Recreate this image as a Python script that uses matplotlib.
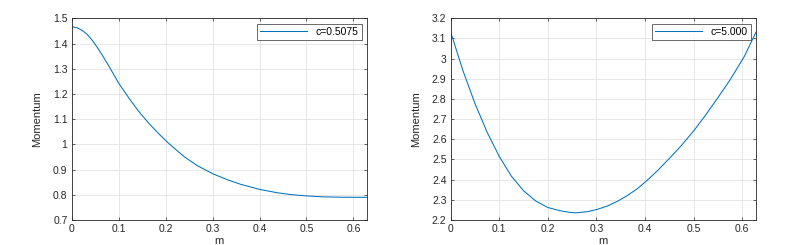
import numpy as np
import matplotlib.pyplot as plt

# values
m_left = [0.0, 0.012, 0.023, 0.033, 0.044, 0.055, 0.065, 0.079, 0.101, 0.122, 0.143,
          0.165, 0.186, 0.207, 0.239, 0.267, 0.301, 0.331, 0.360, 0.400, 0.438,
          0.466, 0.500, 0.537, 0.580, 0.6283]
mom_left = [1.467, 1.462, 1.451, 1.436, 1.412, 1.383, 1.354, 1.311, 1.240, 1.183, 1.130,
            1.082, 1.041, 1.003, 0.952, 0.916, 0.883, 0.860, 0.8415, 0.8215, 0.808,
            0.801, 0.7955, 0.7918, 0.7903, 0.790]

m_right = [0.0, 0.025, 0.050, 0.075, 0.100, 0.125, 0.150, 0.175, 0.200, 0.225, 0.245,
           0.257, 0.282, 0.302, 0.323, 0.344, 0.364, 0.385, 0.404, 0.427, 0.451,
           0.475, 0.502, 0.525, 0.550, 0.575, 0.604, 0.6283]
mom_right = [3.132, 2.942, 2.777, 2.635, 2.515, 2.417, 2.345, 2.294, 2.262, 2.246, 2.238,
             2.2355, 2.2415, 2.253, 2.270, 2.294, 2.322, 2.357, 2.396, 2.448, 2.508,
             2.570, 2.648, 2.722, 2.807, 2.895, 3.010, 3.132]

labels = ["c=0.5075", "c=5.000"]
ylims = [(0.7, 1.5), (2.2, 3.2)]

plt.rcParams['font.family'] = ['Liberation Sans', 'DejaVu Sans']
fig = plt.figure(figsize=(7.9, 2.45), dpi=100)
ax1 = fig.add_axes([0.0908, 0.102, 0.3734, 0.8233])
ax2 = fig.add_axes([0.5705, 0.102, 0.3865, 0.8233])

for ax, xs, ys, lab, yl in [(ax1, m_left, mom_left, labels[0], ylims[0]),
                            (ax2, m_right, mom_right, labels[1], ylims[1])]:
    ax.plot(xs, ys, color='#0072BD', lw=0.75, label=lab)
    ax.set_xlim(0, np.pi / 5)
    ax.set_ylim(*yl)
    ax.set_xticks(np.arange(0, 0.61, 0.1))
    ax.set_xticklabels(["0", "0.1", "0.2", "0.3", "0.4", "0.5", "0.6"])
    yt = np.round(np.arange(yl[0], yl[1] + 0.01, 0.1), 1)
    ax.set_yticks(yt)
    ax.set_yticklabels([("%g" % v) for v in yt])
    ax.grid(True, color='#e3e3e3', lw=0.6)
    ax.set_axisbelow(True)
    ax.tick_params(direction='in', top=True, right=True, length=2.5, width=0.5,
                   labelsize=7.5, colors='#262626', pad=3)
    for s in ax.spines.values():
        s.set_linewidth(0.6)
        s.set_color('#262626')
    ax.set_xlabel("m", fontsize=8, color='#262626', labelpad=1)
    ax.set_ylabel("Momentum", fontsize=8, color='#262626', labelpad=8)
    leg = ax.legend(loc='upper right', fontsize=7.5, frameon=True, fancybox=False,
                    handlelength=4.5, borderpad=0.3, borderaxespad=0.5)
    leg.get_frame().set_edgecolor('#262626')
    leg.get_frame().set_linewidth(0.6)

fig.savefig("out.png", dpi=100)
